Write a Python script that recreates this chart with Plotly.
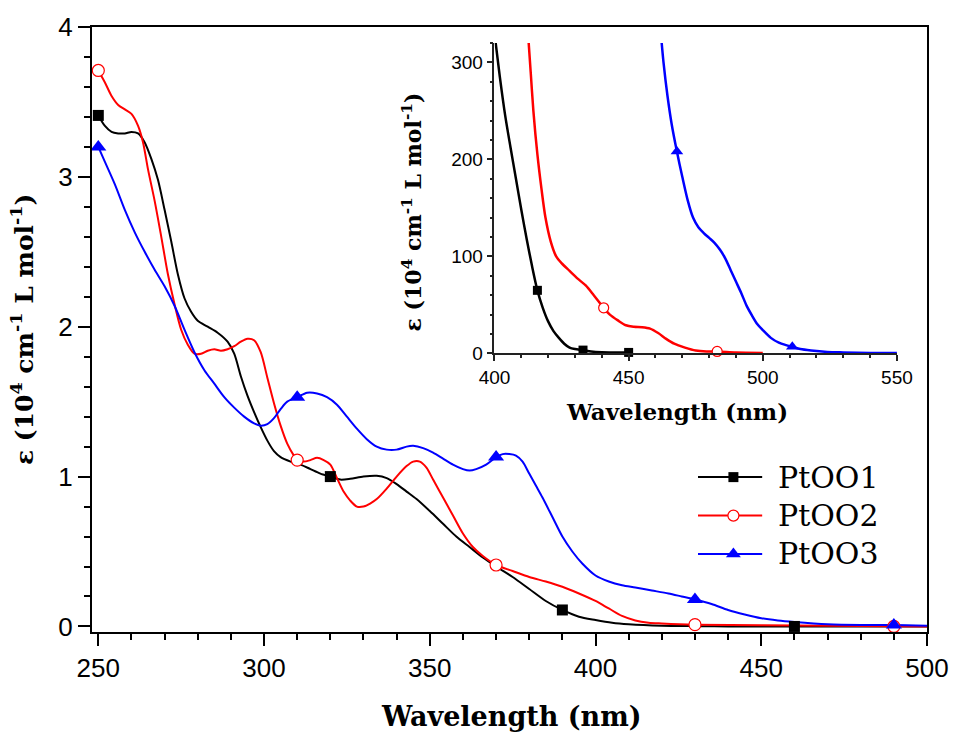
import plotly.graph_objects as go

# ---------------- main spectra (wavelength in nm, epsilon in 10^4 cm^-1 L mol^-1)
wl_1 = [250, 252, 254, 256, 258, 260, 262, 264, 266, 268, 270, 272, 274, 276, 278, 280,
        283, 286, 289, 291, 293, 295, 297, 299, 301, 303, 305, 308, 311, 314, 317, 320,
        323, 326, 330, 334, 337, 340, 343, 346, 350, 354, 358, 362, 366, 370, 375, 380,
        385, 390, 395, 400, 405, 410, 420, 430, 440, 460, 500]
eps_1 = [3.41, 3.34, 3.30, 3.29, 3.29, 3.30, 3.29, 3.23, 3.12, 2.98, 2.78, 2.57, 2.35, 2.19, 2.10, 2.04,
         2.00, 1.96, 1.90, 1.82, 1.67, 1.54, 1.43, 1.33, 1.24, 1.17, 1.13, 1.10, 1.08, 1.05, 1.02, 1.00,
         0.98, 0.985, 1.00, 1.005, 0.99, 0.95, 0.90, 0.85, 0.77, 0.685, 0.60, 0.53, 0.46, 0.40, 0.33, 0.25,
         0.17, 0.11, 0.065, 0.043, 0.025, 0.015, 0.005, 0.002, 0.0, 0.0, 0.0]

wl_2 = [250, 252, 254, 256, 258, 260, 262, 263.5, 265, 267, 269, 271, 273, 275, 277, 279,
        281, 283, 285, 287, 289, 291, 293, 295, 297, 299, 301, 303, 305, 307, 309, 310,
        312, 314, 316, 318, 320, 322, 324, 326, 328, 330, 332, 334, 337, 340, 343, 345,
        347, 349, 351, 354, 357, 360, 363, 366, 370, 375, 380, 385, 390, 395, 400, 404,
        408, 412, 416, 420, 430, 450, 470, 500]
eps_2 = [3.71, 3.63, 3.54, 3.48, 3.45, 3.42, 3.34, 3.23, 3.05, 2.84, 2.60, 2.35, 2.15, 1.98, 1.88, 1.82,
         1.82, 1.84, 1.85, 1.84, 1.85, 1.87, 1.90, 1.92, 1.91, 1.83, 1.66, 1.49, 1.34, 1.22, 1.14, 1.11,
         1.10, 1.11, 1.125, 1.11, 1.08, 0.99, 0.90, 0.84, 0.80, 0.80, 0.82, 0.85, 0.92, 1.00, 1.07, 1.10,
         1.10, 1.06, 0.98, 0.86, 0.74, 0.62, 0.53, 0.47, 0.41, 0.37, 0.33, 0.30, 0.265, 0.22, 0.17, 0.12,
         0.07, 0.04, 0.025, 0.02, 0.012, 0.008, 0.005, 0.0]

wl_3 = [250, 252, 255, 258, 261, 264, 267, 270, 273, 276, 279, 282, 285, 288, 291, 294,
        297, 299, 301, 303, 305, 307, 310, 313, 316, 319, 322, 325, 328, 331, 334, 337,
        340, 343, 345, 348, 351, 354, 357, 360, 362, 364, 367, 370, 372, 374, 376, 378,
        380, 382, 384, 387, 390, 393, 396, 400, 404, 408, 412, 417, 422, 426, 430, 435,
        440, 445, 450, 455, 460, 470, 480, 490, 500]
eps_3 = [3.20, 3.10, 2.95, 2.78, 2.63, 2.50, 2.38, 2.27, 2.14, 1.98, 1.83, 1.71, 1.62, 1.53, 1.46, 1.40,
         1.355, 1.34, 1.35, 1.39, 1.45, 1.50, 1.53, 1.56, 1.555, 1.53, 1.48, 1.40, 1.32, 1.25, 1.20, 1.18,
         1.18, 1.20, 1.205, 1.19, 1.16, 1.12, 1.08, 1.05, 1.04, 1.05, 1.08, 1.13, 1.15, 1.15, 1.14, 1.10,
         1.02, 0.94, 0.86, 0.73, 0.60, 0.50, 0.42, 0.34, 0.30, 0.275, 0.26, 0.24, 0.22, 0.20, 0.18, 0.15,
         0.11, 0.08, 0.055, 0.04, 0.03, 0.015, 0.01, 0.01, 0.005]

# symbol positions on the main curves
sym_wl_1 = [250, 320, 390, 460]
sym_eps_1 = [3.41, 1.00, 0.11, 0.0]
sym_wl_2 = [250, 310, 370, 430, 490]
sym_eps_2 = [3.71, 1.11, 0.41, 0.012, 0.0]
sym_wl_3 = [250, 310, 370, 430, 490]
sym_eps_3 = [3.20, 1.53, 1.13, 0.18, 0.01]

# ---------------- tail region (inset), epsilon in the inset units
in_wl_1 = [400, 402, 404, 406, 408, 410, 412, 414, 416, 418, 420, 422, 424, 426, 428, 430,
           433, 436, 440, 445, 450]
in_eps_1 = [330, 285, 245, 212, 180, 148, 118, 90, 65, 47, 33, 23, 16, 10, 6, 4.5,
            3.4, 2, 1.2, 1, 1]
in_wl_2 = [412.5, 413.5, 414.5, 416, 417.5, 419, 421, 423, 425, 428, 431, 434, 437, 440.7, 443, 446,
           449, 452, 455, 458, 461, 464, 467, 471, 475, 479, 483, 490, 500]
in_eps_2 = [330, 290, 250, 205, 170, 140, 115, 100, 93, 85, 77, 70, 60, 47, 40, 34,
            29, 27.5, 27, 25.5, 21, 15, 10, 6, 3, 2, 2, 1, 0.5]
in_wl_3 = [462, 463, 464.5, 466, 468, 470, 472, 474, 476, 478, 480, 482, 484, 486, 488, 490,
           492, 494, 496, 498, 500, 503, 506, 508.7, 511, 514, 518, 524, 530, 540, 550]
in_eps_3 = [330, 300, 265, 237, 208, 182, 158, 140, 130, 124, 119, 114, 107, 98, 86, 74,
            62, 49, 39, 30, 24, 16, 11, 8.5, 6.8, 4.5, 3, 1.5, 1, 0.5, 0.3]

in_sym_wl_1 = [416, 433, 450]
in_sym_eps_1 = [65, 3.4, 1]
in_sym_wl_2 = [440.7, 483]
in_sym_eps_2 = [47, 2]
in_sym_wl_3 = [468, 511]
in_sym_eps_3 = [208, 6.8]

names = ["PtOO1", "PtOO2", "PtOO3"]
colors = ["#000000", "#ff0000", "#0000ff"]
symbols = ["square", "circle-open", "triangle-up"]

x_ticks = [250, 300, 350, 400, 450, 500]
y_ticks = [0, 1, 2, 3, 4]
in_x_ticks = [400, 450, 500, 550]
in_y_ticks = [0, 100, 200, 300]

fig = go.Figure()

curves = [(wl_1, eps_1), (wl_2, eps_2), (wl_3, eps_3)]
syms = [(sym_wl_1, sym_eps_1), (sym_wl_2, sym_eps_2), (sym_wl_3, sym_eps_3)]
in_curves = [(in_wl_1, in_eps_1), (in_wl_2, in_eps_2), (in_wl_3, in_eps_3)]
in_syms = [(in_sym_wl_1, in_sym_eps_1), (in_sym_wl_2, in_sym_eps_2), (in_sym_wl_3, in_sym_eps_3)]

main_sizes = [11, 12, 14]
in_sizes = [9, 10, 11]


def marker_style(i, size):
    if symbols[i] == "circle-open":
        return dict(symbol="circle", size=size, color="white",
                    line=dict(color=colors[i], width=1.2))
    return dict(symbol=symbols[i], size=size, color=colors[i], line=dict(width=0))


for i in range(3):
    fig.add_trace(go.Scatter(x=curves[i][0], y=curves[i][1], mode="lines",
                             line=dict(color=colors[i], width=2, shape="spline", smoothing=0.8),
                             showlegend=False, xaxis="x", yaxis="y"))
for i in range(3):
    fig.add_trace(go.Scatter(x=syms[i][0], y=syms[i][1], mode="markers",
                             marker=marker_style(i, main_sizes[i]), cliponaxis=False,
                             showlegend=False, xaxis="x", yaxis="y"))
for i in range(3):
    fig.add_trace(go.Scatter(x=in_curves[i][0], y=in_curves[i][1], mode="lines",
                             line=dict(color=colors[i], width=2.5, shape="spline", smoothing=0.8),
                             showlegend=False, xaxis="x2", yaxis="y2"))
for i in range(3):
    fig.add_trace(go.Scatter(x=in_syms[i][0], y=in_syms[i][1], mode="markers",
                             marker=marker_style(i, in_sizes[i]), cliponaxis=False,
                             showlegend=False, xaxis="x2", yaxis="y2"))

# key: one short sample line per series with its symbol in the middle
for i in range(3):
    fig.add_trace(go.Scatter(x=[0, 1], y=[i, i], mode="lines",
                             line=dict(color=colors[i], width=2),
                             showlegend=False, xaxis="x3", yaxis="y3", hoverinfo="skip"))
    fig.add_trace(go.Scatter(x=[0.55], y=[i], mode="markers",
                             marker=marker_style(i, main_sizes[i] - 1), cliponaxis=False,
                             showlegend=False, xaxis="x3", yaxis="y3", hoverinfo="skip"))

tick_font = dict(family="Liberation Sans, Arial, sans-serif", size=26, color="black")
in_tick_font = dict(family="Liberation Sans, Arial, sans-serif", size=19, color="black")
title_font_family = "DejaVu Serif, serif"

fig.update_layout(
    width=961, height=736,
    margin=dict(l=92, r=27, t=24, b=104),
    paper_bgcolor="white", plot_bgcolor="rgba(0,0,0,0)",
    showlegend=False,
    xaxis=dict(range=[248.1, 500], domain=[0, 1], tickvals=x_ticks, showgrid=False, zeroline=False,
               showline=True, linecolor="black", linewidth=2, mirror=True,
               ticks="outside", ticklen=12, tickwidth=2, tickcolor="black", tickfont=tick_font,
               minor=dict(dtick=10, tick0=250, ticks="outside", ticklen=6, tickwidth=2, tickcolor="black",
                          showgrid=False)),
    yaxis=dict(range=[-0.037, 4], domain=[0, 1], tickvals=y_ticks, showgrid=False, zeroline=False,
               showline=True, linecolor="black", linewidth=2, mirror=True,
               ticks="outside", ticklen=12, tickwidth=2, tickcolor="black", tickfont=tick_font,
               minor=dict(dtick=0.2, tick0=0, ticks="outside", ticklen=6, tickwidth=2, tickcolor="black",
                          showgrid=False)),
    xaxis2=dict(range=[400, 550], domain=[0.482, 0.964], anchor="y2", tickvals=in_x_ticks,
                showgrid=False, zeroline=False, showline=True, linecolor="#222", linewidth=1.5,
                ticks="outside", ticklen=6, tickwidth=1.5, tickcolor="#222", tickfont=in_tick_font,
                minor=dict(dtick=10, tick0=400, ticks="outside", ticklen=3, tickwidth=1.5,
                           tickcolor="#222", showgrid=False)),
    yaxis2=dict(range=[0, 320], domain=[0.4605, 0.9737], anchor="x2", tickvals=in_y_ticks,
                showgrid=False, zeroline=False, showline=True, linecolor="#222", linewidth=1.5,
                ticks="outside", ticklen=6, tickwidth=1.5, tickcolor="#222", tickfont=in_tick_font,
                minor=dict(dtick=20, tick0=0, ticks="outside", ticklen=3, tickwidth=1.5,
                           tickcolor="#222", showgrid=False)),
    xaxis3=dict(range=[0, 1], domain=[0.7257, 0.8029], anchor="y3", visible=False),
    yaxis3=dict(range=[2.5, -0.5], domain=[0.0970, 0.2878], anchor="x3", visible=False),
)

annotations = [
    dict(text="<b>Wavelength (nm)</b>", xref="paper", yref="paper", x=0.5024, y=-0.140,
         xanchor="center", yanchor="middle", showarrow=False,
         font=dict(family=title_font_family, size=27, color="black")),
    dict(text="<b>ε (10<sup>4</sup> cm<sup>-1</sup> L mol<sup>-1</sup>)</b>", xref="paper", yref="paper",
         x=-0.0831, y=0.5, xanchor="center", yanchor="middle", textangle=-90, showarrow=False,
         font=dict(family=title_font_family, size=25, color="black")),
    dict(text="<b>Wavelength (nm)</b>", xref="paper", yref="paper", x=0.7007, y=0.365,
         xanchor="center", yanchor="middle", showarrow=False,
         font=dict(family=title_font_family, size=23, color="black")),
    dict(text="<b>ε (10<sup>4</sup> cm<sup>-1</sup> L mol<sup>-1</sup>)</b>", xref="paper", yref="paper",
         x=0.3836, y=0.694, xanchor="center", yanchor="middle", textangle=-90, showarrow=False,
         font=dict(family=title_font_family, size=22, color="black")),
]
# key labels, one per sample row
key_label_y = [0.2549, 0.1924, 0.1299]
for i in range(3):
    annotations.append(dict(text=names[i], xref="paper", yref="paper", x=0.8195, y=key_label_y[i],
                            xanchor="left", yanchor="middle", showarrow=False,
                            font=dict(family=title_font_family, size=30, color="black")))
fig.update_layout(annotations=annotations)

fig.write_html("out.html")
